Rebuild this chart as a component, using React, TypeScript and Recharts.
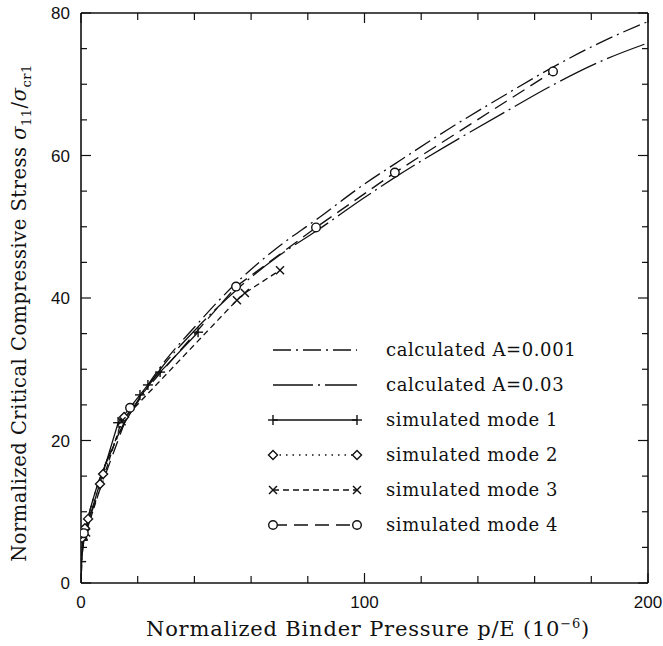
import React from 'react';
import { LineChart, Line, XAxis, YAxis, Legend } from 'recharts';

// ---- data ----
const calcX = [0, 0.3, 1, 2, 4, 7, 10, 15, 20, 28, 40, 55, 70, 83, 100, 111, 130, 150, 166, 185, 200];
const calcA001Y = [0, 3.2, 5.9, 8.2, 11.4, 15.1, 18.0, 22.3, 25.6, 30.3, 35.9, 42.2, 47.3, 51.0, 56.0, 58.9, 63.8, 68.6, 72.3, 76.2, 78.8];
const calcA003Y = [0, 3.2, 5.9, 8.2, 11.4, 15.0, 17.9, 22.2, 25.4, 30.0, 35.4, 41.2, 46.0, 49.4, 54.1, 57.0, 61.6, 66.2, 69.8, 73.5, 75.8];

const mode1X = [0.05, 0.6, 13.1, 20.8, 23.6, 27.9, 41.3];
const mode1Y = [3.0, 6.0, 22.5, 26.4, 27.8, 29.6, 35.2];

const mode2X = [0.4, 1.4, 2.5, 6.7, 7.8, 15.2];
const mode2Y = [6.3, 7.7, 9.0, 13.9, 15.3, 23.3];

const mode3X = [0.9, 1.8, 14.3, 55.0, 57.8, 70.2];
const mode3Y = [6.6, 7.1, 22.7, 39.7, 40.7, 43.9];

const mode4X = [1.0, 17.3, 54.7, 82.9, 110.7, 166.5];
const mode4Y = [7.0, 24.6, 41.6, 49.9, 57.6, 71.8];

const xTicks = [0, 20, 40, 60, 80, 100, 120, 140, 160, 180, 200];
const xLabelTicks = [0, 100, 200];
const yTicks = [0, 5, 10, 15, 20, 25, 30, 35, 40, 45, 50, 55, 60, 65, 70, 75, 80];
const yLabelTicks = [0, 20, 40, 60, 80];

const legendLabels = [
  'calculated A=0.001',
  'calculated A=0.03',
  'simulated mode 1',
  'simulated mode 2',
  'simulated mode 3',
  'simulated mode 4',
];

const toPts = (xs: number[], ys: number[]) => xs.map((x, i) => ({ x, y: ys[i] }));

const INK = '#111';
const SERIF = '"DejaVu Serif", serif';
const SANS = '"Liberation Sans", Arial, sans-serif';

type MarkerKind = 'none' | 'plus' | 'diamond' | 'cross' | 'circle';

function Marker({ cx, cy, kind }: { cx: number; cy: number; kind: MarkerKind }) {
  if (cx == null || cy == null || kind === 'none') return <g />;
  const s = { stroke: INK, strokeWidth: 1.4, fill: 'none' };
  if (kind === 'plus') {
    return (
      <g {...s}>
        <line x1={cx - 5} x2={cx + 5} y1={cy} y2={cy} />
        <line x1={cx} x2={cx} y1={cy - 5} y2={cy + 5} />
      </g>
    );
  }
  if (kind === 'cross') {
    return (
      <g {...s}>
        <line x1={cx - 4} x2={cx + 4} y1={cy - 4} y2={cy + 4} />
        <line x1={cx - 4} x2={cx + 4} y1={cy + 4} y2={cy - 4} />
      </g>
    );
  }
  if (kind === 'diamond') {
    return <path {...s} fill="#fff" d={`M${cx},${cy - 4.5}L${cx + 4.5},${cy}L${cx},${cy + 4.5}L${cx - 4.5},${cy}Z`} />;
  }
  return <circle {...s} fill="#fff" cx={cx} cy={cy} r={4.3} />;
}

const series = [
  { name: legendLabels[0], data: toPts(calcX, calcA001Y), dash: '18 5 2 5', marker: 'none' as MarkerKind, type: 'monotone' },
  { name: legendLabels[1], data: toPts(calcX, calcA003Y), dash: '40 5 2 5', marker: 'none' as MarkerKind, type: 'monotone' },
  { name: legendLabels[2], data: toPts(mode1X, mode1Y), dash: undefined, marker: 'plus' as MarkerKind, type: 'linear' },
  { name: legendLabels[3], data: toPts(mode2X, mode2Y), dash: '1.5 5', marker: 'diamond' as MarkerKind, type: 'linear' },
  { name: legendLabels[4], data: toPts(mode3X, mode3Y), dash: '6 4', marker: 'cross' as MarkerKind, type: 'linear' },
  { name: legendLabels[5], data: toPts(mode4X, mode4Y), dash: '14 7', marker: 'circle' as MarkerKind, type: 'linear' },
];

// ---- tick renderers (inward ticks, like the reference) ----
const XBottomTick = (p: any) => {
  const v = p.payload.value;
  const major = xLabelTicks.includes(v);
  return (
    <g>
      <line x1={p.x} x2={p.x} y1={p.y} y2={p.y - (major ? 10 : 7)} stroke={INK} strokeWidth={1.2} />
      {major && (
        <text x={p.x} y={p.y + 25} textAnchor="middle" fontFamily={SANS} fontSize={17} fill={INK}>
          {v}
        </text>
      )}
    </g>
  );
};
const XTopTick = (p: any) => {
  const v = p.payload.value;
  const major = xLabelTicks.includes(v);
  return <line x1={p.x} x2={p.x} y1={p.y} y2={p.y + (major ? 10 : 7)} stroke={INK} strokeWidth={1.2} />;
};
const YLeftTick = (p: any) => {
  const v = p.payload.value;
  const major = yLabelTicks.includes(v);
  return (
    <g>
      <line x1={p.x} x2={p.x + (major ? 10 : 6)} y1={p.y} y2={p.y} stroke={INK} strokeWidth={1.2} />
      {major && (
        <text x={p.x - 11} y={p.y + 6} textAnchor="end" fontFamily={SANS} fontSize={17} fill={INK}>
          {v}
        </text>
      )}
    </g>
  );
};
const YRightTick = (p: any) => {
  const v = p.payload.value;
  const major = yLabelTicks.includes(v);
  return <line x1={p.x} x2={p.x - (major ? 10 : 6)} y1={p.y} y2={p.y} stroke={INK} strokeWidth={1.2} />;
};

// ---- legend ----
const renderLegend = () => (
  <svg width={390} height={210} style={{ display: 'block' }}>
    {series.map((s, i) => {
      const y = 18 + i * 35;
      return (
        <g key={s.name}>
          <line x1={8} x2={92} y1={y} y2={y} stroke={INK} strokeWidth={1.3} strokeDasharray={s.dash} />
          <Marker cx={8} cy={y} kind={s.marker} />
          <Marker cx={92} cy={y} kind={s.marker} />
          <text x={121} y={y + 6} fontFamily={SERIF} fontSize={18} fill={INK} letterSpacing={0.6}>
            {s.name}
          </text>
        </g>
      );
    })}
  </svg>
);

export default function App() {
  return (
    <div style={{ position: 'relative', width: 663, height: 640 }}>
      <style>{'html,body{margin:0;padding:0;overflow:hidden;}'}</style>
      <LineChart width={663} height={640} margin={{ top: 12, right: 14, bottom: 27, left: 31 }}>
        <XAxis
          dataKey="x"
          type="number"
          domain={[0, 200]}
          ticks={xTicks}
          interval={0}
          allowDataOverflow
          height={30}
          tickSize={0}
          tickMargin={0}
          tickLine={false}
          axisLine={{ stroke: INK, strokeWidth: 1.6 }}
          tick={XBottomTick}
        />
        <XAxis
          xAxisId="top"
          orientation="top"
          dataKey="x"
          type="number"
          domain={[0, 200]}
          ticks={xTicks}
          interval={0}
          allowDataOverflow
          height={1}
          tickSize={0}
          tickMargin={0}
          tickLine={false}
          axisLine={{ stroke: INK, strokeWidth: 1.6 }}
          tick={XTopTick}
        />
        <YAxis
          type="number"
          domain={[0, 80]}
          ticks={yTicks}
          interval={0}
          allowDataOverflow
          width={50}
          tickSize={0}
          tickMargin={0}
          tickLine={false}
          axisLine={{ stroke: INK, strokeWidth: 1.6 }}
          tick={YLeftTick}
        />
        <YAxis
          yAxisId="right"
          orientation="right"
          type="number"
          domain={[0, 80]}
          ticks={yTicks}
          interval={0}
          allowDataOverflow
          width={1}
          tickSize={0}
          tickMargin={0}
          tickLine={false}
          axisLine={{ stroke: INK, strokeWidth: 1.6 }}
          tick={YRightTick}
        />
        <Legend
          layout="vertical"
          align="center"
          verticalAlign="middle"
          content={renderLegend}
          wrapperStyle={{ left: 265, top: 332, width: 390, height: 210 }}
        />
        {series.map((s) => (
          <Line
            key={s.name}
            name={s.name}
            data={s.data}
            dataKey="y"
            type={s.type as any}
            stroke={INK}
            strokeWidth={1.3}
            strokeDasharray={s.dash}
            isAnimationActive={false}
            legendType="none"
            dot={(p: any) => <Marker key={`${s.name}-${p.index}`} cx={p.cx} cy={p.cy} kind={s.marker} />}
            activeDot={false}
          />
        ))}
      </LineChart>
      <svg width={663} height={640} style={{ position: 'absolute', left: 0, top: 0, pointerEvents: 'none' }}>
        <text x={368} y={636} textAnchor="middle" fontFamily={SERIF} fontSize={21} fill={INK} letterSpacing={0.8}>
          Normalized Binder Pressure p/E (10
          <tspan dy={-8} fontSize={13}>−6</tspan>
          <tspan dy={8}>)</tspan>
        </text>
        <text
          transform="translate(26,313) rotate(-90)"
          textAnchor="middle"
          fontFamily={SERIF}
          fontSize={19.5}
          fill={INK}
          letterSpacing={0.5}
        >
          Normalized Critical Compressive Stress{' '}
          <tspan fontStyle="italic">σ</tspan>
          <tspan dy={5} fontSize={13}>11</tspan>
          <tspan dy={-5}>/</tspan>
          <tspan fontStyle="italic">σ</tspan>
          <tspan dy={5} fontSize={13}>cr1</tspan>
        </text>
      </svg>
    </div>
  );
}
